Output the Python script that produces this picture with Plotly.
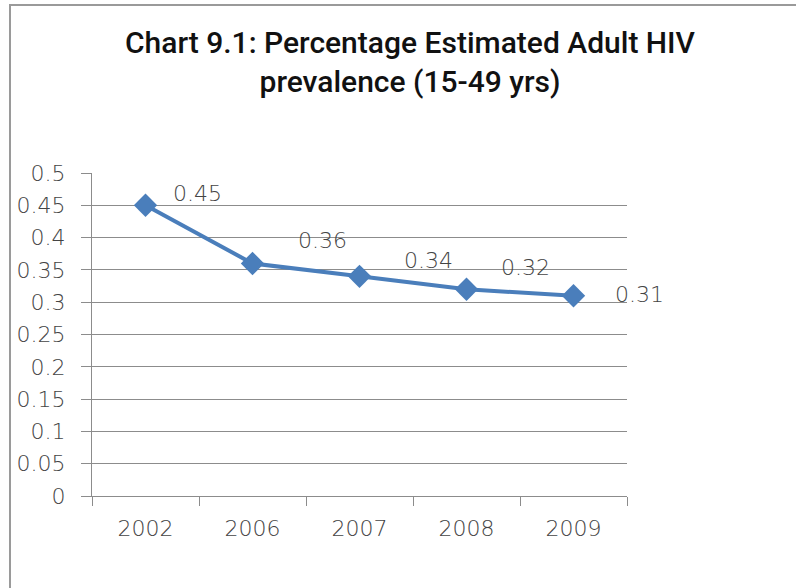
import plotly.graph_objects as go

# Estimated adult HIV prevalence (15-49 yrs), percentage
years = ["2002", "2006", "2007", "2008", "2009"]
prevalence = [0.45, 0.36, 0.34, 0.32, 0.31]
y_ticks = [0, 0.05, 0.1, 0.15, 0.2, 0.25, 0.3, 0.35, 0.4, 0.45, 0.5]
y_tick_text = ["0", "0.05", "0.1", "0.15", "0.2", "0.25", "0.3", "0.35", "0.4", "0.45", "0.5"]

# pixel offsets of each data label from its marker
label_dx = [52, 70, 69, 59, 66]
label_dy = [12, 23, 16, 22, 1]

LINE_BLUE = "#4A7EBB"
GRID = "#8c8c8c"
TEXT = "#444444"
TICK_FONT = dict(family="DejaVu Sans, sans-serif", size=22, color=TEXT, weight=200)

fig = go.Figure()
fig.add_trace(go.Scatter(
    x=years, y=prevalence, mode="lines+markers",
    line=dict(color=LINE_BLUE, width=4),
    marker=dict(symbol="diamond", size=18, color=LINE_BLUE),
    showlegend=False, hoverinfo="x+y",
))

# value labels; on a category axis annotations are placed by category index
for i, (v, dx, dy) in enumerate(zip(prevalence, label_dx, label_dy)):
    fig.add_annotation(
        x=i, y=v, xref="x", yref="y", text=f"{v:g}", showarrow=False,
        xshift=dx, yshift=dy, font=TICK_FONT,
    )

# chart frame
fig.add_shape(
    type="rect", xref="paper", yref="paper",
    x0=(10 - 92) / 535, x1=1.5, y0=-0.5, y1=(496 - 5) / 323,
    line=dict(color="#9a9a9a", width=2), fillcolor="rgba(0,0,0,0)",
    layer="below",
)

fig.update_layout(
    width=796, height=588,
    margin=dict(l=92, r=169, t=173, b=92),
    paper_bgcolor="white", plot_bgcolor="white",
    title=dict(
        text="Chart 9.1: Percentage Estimated Adult HIV<br>prevalence (15-49 yrs)",
        x=410 / 796, xref="container", xanchor="center",
        y=1 - 53 / 588, yref="container", yanchor="middle",
        font=dict(family="Roboto, Liberation Sans, sans-serif",
                  size=30, color="#111111", weight=500),
    ),
    xaxis=dict(
        type="category", tickson="boundaries",
        ticks="outside", ticklen=9, tickcolor=GRID, tickwidth=1,
        showline=True, linecolor=GRID, linewidth=1,
        showgrid=False, tickfont=TICK_FONT, ticklabelstandoff=13,
        range=[-0.5, 4.5], fixedrange=True,
    ),
    yaxis=dict(
        range=[0, 0.5], tickvals=y_ticks, ticktext=y_tick_text,
        ticks="outside", ticklen=10, tickcolor=GRID,
        showline=True, linecolor=GRID, linewidth=1,
        showgrid=True, gridcolor=GRID, gridwidth=1,
        zeroline=False, tickfont=TICK_FONT, ticklabelstandoff=11,
    ),
)

fig.write_html("out.html")
